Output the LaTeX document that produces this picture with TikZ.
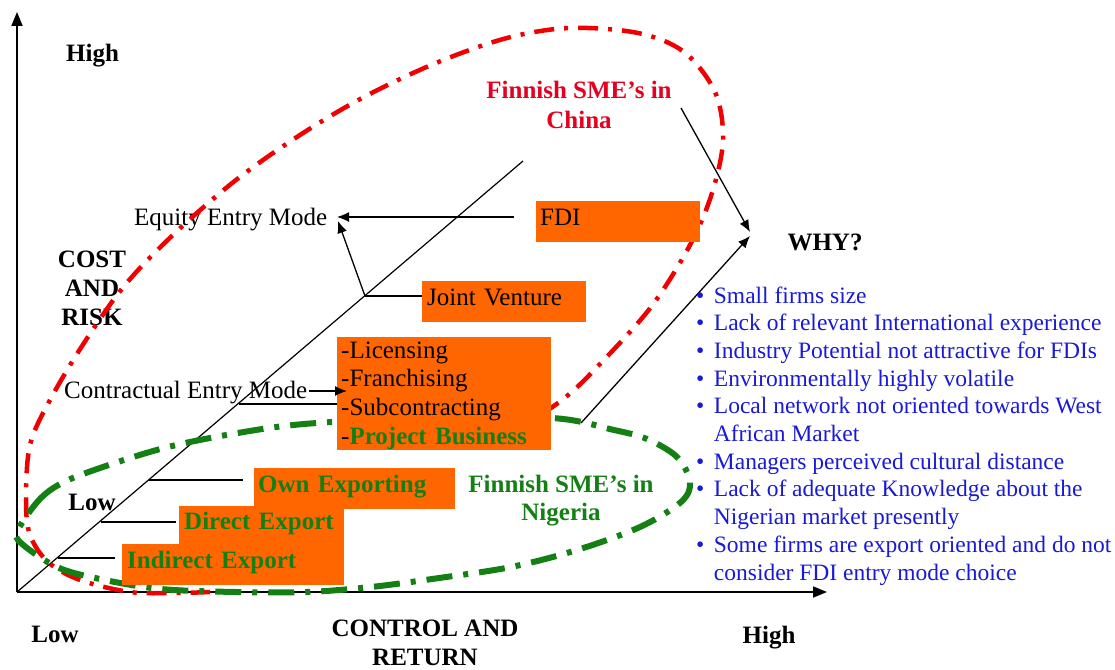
\documentclass[tikz,border=0pt]{standalone}
\usepackage{fontspec}
\setmainfont{Liberation Serif}
\usetikzlibrary{arrows.meta}
\definecolor{boxorange}{RGB}{255,102,0}
\definecolor{chinared}{RGB}{240,0,0}
\definecolor{titlered}{RGB}{228,0,30}
\definecolor{nigeriagreen}{RGB}{20,128,20}
\definecolor{reasonblue}{RGB}{25,25,215}

\begin{document}
\begin{tikzpicture}[x=1pt,y=-1pt,
  font=\fontsize{25}{28.7}\selectfont,
  lbl/.style={inner sep=0pt},
  hd/.style={inner sep=0pt,align=center,font=\bfseries\fontsize{25}{29}\selectfont},
  modefill/.style={fill=boxorange,anchor=north west,inner xsep=4pt,inner ysep=0pt,align=left},
  modebox/.style={modefill,text height=18pt,text depth=11pt},
  greentxt/.style={text=nigeriagreen,font=\bfseries\fontsize{25}{28.7}\selectfont},
  axis/.style={line width=1.8pt,-{Triangle[length=14pt,width=11pt]}},
  diagline/.style={line width=1.2pt},
  tick/.style={line width=2pt},
  arr/.style={line width=1.3pt,-{Latex[length=12pt,width=10pt]}},
  redloop/.style={chinared,line width=4.5pt,dash pattern=on 20pt off 10pt on 4pt off 10pt},
  greenloop/.style={nigeriagreen,line width=6pt,dash pattern=on 26pt off 11pt on 5pt off 11pt}
]
\useasboundingbox (0,0) rectangle (1115,669);

% axes and the diagonal scale
\coordinate (o) at (17,592);
\coordinate (ytop) at (17,12);
\coordinate (xend) at (827,592);
\coordinate (dtop) at (523,161);
\draw[axis] (o) -- (ytop);
\draw[axis] (o) -- (xend);

% axis labels
\node[hd,anchor=base] (yhigh) at (92.5,61) {High};
\node[hd,anchor=north] (ytitle) at (92,250.5) {COST\\AND\\RISK};
\node[hd,anchor=base] (ylow) at (92,510) {Low};
\node[hd,anchor=base] (xlow) at (55,642) {Low};
\node[hd,anchor=north] (xtitle) at (425,620) {CONTROL AND\\RETURN};
\node[hd,anchor=base] (xhigh) at (769,643) {High};

% entry mode groups
\node[lbl,anchor=base west] (equity) at (134,225) {Equity Entry Mode};
\node[lbl,anchor=base west] (contract) at (64,398) {Contractual Entry Mode};

\draw[diagline] (o) -- (dtop);

% market clusters (the red one runs out under the boxes)
\draw[redloop] plot[smooth,tension=0.55] coordinates {
  (505,438) (562,400) (599,365) (651,307) (690,245) (712,193) (723,140)
  (715,92) (684,52) (638,33) (570,28) (507,38) (436,63) (364,97)
  (300,135) (236,180) (175,233) (125,285) (84,343) (50,400) (30,445)
  (26,500) (30,535) (48,562) (80,580) (130,592) (175,593) (210,592)};
\draw[greenloop] plot[smooth cycle,tension=0.55] coordinates {
  (18,530) (39,500) (62,483) (100,468) (164,448) (232,434) (304,424)
  (420,418) (552,418) (614,430) (647,439) (677,457) (690,482) (681,502)
  (640,527) (577,550) (511,567) (439,578) (371,587) (307,592) (236,592)
  (161,589) (100,579) (57,567) (21,543)};

\node[hd,anchor=north,text=titlered,font=\bfseries\fontsize{25}{30}\selectfont] (china) at (579,81) {Finnish SME's in\\China};
\node[hd,anchor=north,text=nigeriagreen,font=\bfseries\fontsize{25}{28}\selectfont] (nigeria) at (561,475) {Finnish SME's in\\Nigeria};

% entry mode boxes
\node[modebox,text width=156pt,minimum height=41pt] (fdi) at (536,201) {FDI};
\node[modebox,text width=156pt,minimum height=41pt] (jv) at (422,281) {\hspace{1pt}Joint Venture};
\node[modefill,text width=206pt,minimum height=111pt] (cbox) at (337,337)
  {\rule{0pt}{21pt}-Licensing\\-Franchising\\-Subcontracting\\-{\color{nigeriagreen}\bfseries Project Business}};
\node[modebox,greentxt,text width=193pt,minimum height=41pt] (own) at (254,468) {Own Exporting};
\node[modebox,greentxt,text width=157pt,minimum height=39pt] (direct) at (179,506) {\hspace{1pt}Direct Export};
\node[modebox,greentxt,text width=214pt,minimum height=41pt] (indirect) at (122,544) {\hspace{1pt}Indirect Export};

% points where each mode meets the diagonal
\coordinate (dfdi) at (457,217);
\coordinate (djv) at (365,296);
\coordinate (dcm) at (239,404);
\coordinate (down) at (149,480);
\coordinate (ddir) at (101,522);
\coordinate (dind) at (58,558);

% tick lines from the diagonal towards the boxes
\draw[tick] (dfdi) -- (514,217) coordinate (fdiend);
\draw[tick] (djv) -- (jv.west |- djv);
\draw[tick] (dcm) -- (cbox.west |- dcm);
\draw[tick] (down) -- (243,480) coordinate (ownend);
\draw[tick] (ddir) -- (176,522) coordinate (dirend);
\draw[tick] (dind) -- (115,558) coordinate (indend);

% arrows to the mode groups
\coordinate (eqtipa) at (337,217);
\coordinate (eqtipb) at (338,221);
\draw[arr] (dfdi) -- (eqtipa);
\draw[arr] (djv) -- (eqtipb);
\coordinate (cmstart) at (309,391);
\coordinate (cmtip) at (347,391);
\draw[arr] (cmstart) -- (cmtip);

% reasons
\node[hd,anchor=base] (why) at (825,250) {WHY?};
\coordinate (chinafrom) at (681,108);
\coordinate (nigfrom) at (581,423);
\coordinate (whytipa) at (750,232);
\coordinate (whytipb) at (750,236);
\draw[arr] (chinafrom) -- (whytipa);
\draw[arr] (nigfrom) -- (whytipb);

\node[inner sep=0pt,anchor=base west,text=reasonblue,font=\fontsize{23.5}{27.7}\selectfont] (reasons) at (696,303) {%
  \begin{tabular}[t]{@{}l@{\hspace{9.5pt}}l@{}}
  \textbullet & Small firms size\\
  \textbullet & Lack of relevant International experience\\
  \textbullet & Industry Potential not attractive for FDIs\\
  \textbullet & Environmentally highly volatile\\
  \textbullet & Local network not oriented towards West\\
              & African Market\\
  \textbullet & Managers perceived cultural distance\\
  \textbullet & Lack of adequate Knowledge about the\\
              & Nigerian market presently\\
  \textbullet & Some firms are export oriented and do not\\
              & consider FDI entry mode choice
  \end{tabular}};
\end{tikzpicture}
\end{document}
